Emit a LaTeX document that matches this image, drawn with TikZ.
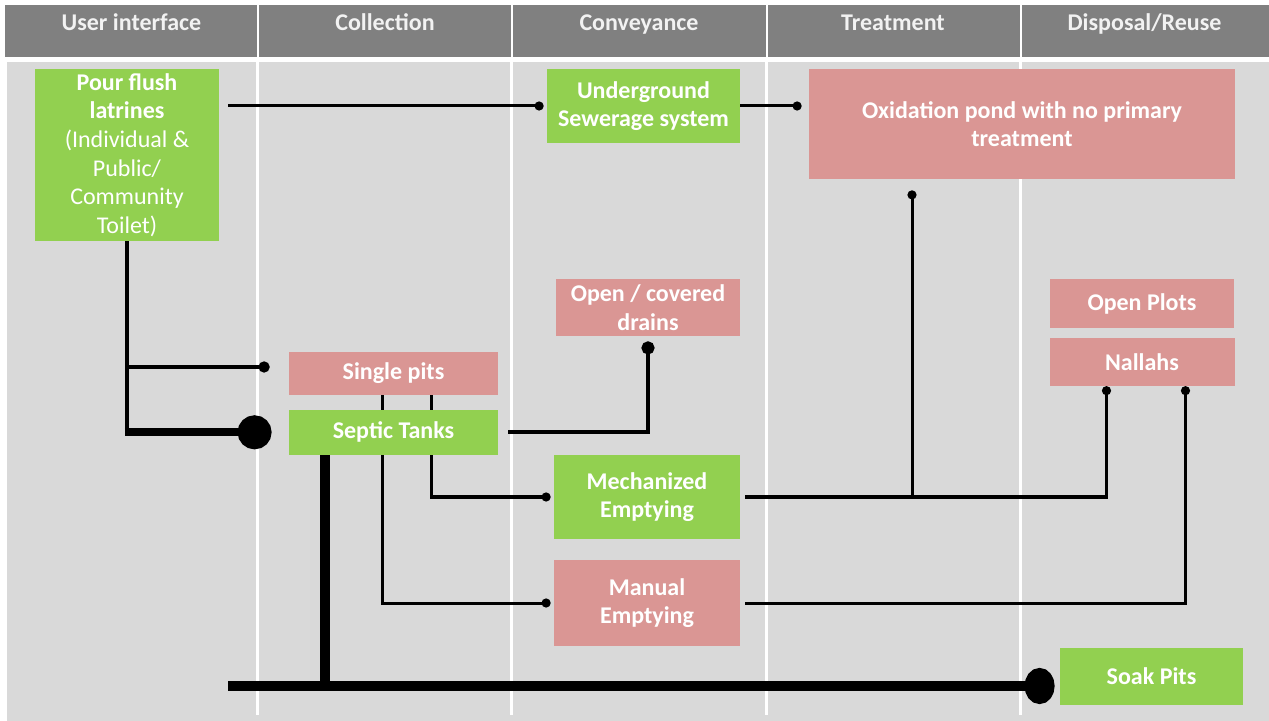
\documentclass[tikz,border=0pt]{standalone}
\usepackage{fontspec}
\setmainfont{Carlito}
\usetikzlibrary{arrows.meta,positioning}
\definecolor{leaf}{HTML}{92D050}
\definecolor{rose}{HTML}{DA9694}
\definecolor{panel}{HTML}{D9D9D9}
\definecolor{headbar}{HTML}{808080}
\definecolor{headtext}{HTML}{F2F2F2}
\pgfdeclarelayer{back}
\pgfsetlayers{back,main}

\begin{document}
\begin{tikzpicture}[%
      x=0.5pt, y=-0.5pt, >={Circle[length=4.5pt]},
      every node/.style={inner sep=0pt, text=white, font=\fontsize{12}{14.3}\selectfont},
      box/.style={rectangle, align=center, font=\bfseries\fontsize{12}{14.3}\selectfont},
      greenbox/.style={box, fill=leaf},
      pinkbox/.style={box, fill=rose},
      title/.style={anchor=base, text=headtext, font=\bfseries\fontsize{12}{14}\selectfont},
      wire/.style={draw=black, line width=1.5pt},
      pipe/.style={draw=black, line width=2.2pt},
      trunk/.style={draw=black, line width=5pt}
    ]
    \useasboundingbox (0,0) rectangle (1269,721);
    \begin{pgfonlayer}{back}
      \fill[headbar] (5,5) rectangle (1269,57);
      \fill[panel] (7,62) rectangle (1269,721);
      \foreach \xd in {257.5,511.5,766.5,1020.5} {
        \draw[white, line width=1pt] (\xd,5) -- (\xd,57);
        \draw[white, line width=1.2pt] (\xd,62) -- (\xd,715);
      }
    \end{pgfonlayer}

    % column titles
    \node [title] (ui) at (131.5,31) {User interface};
    \node [title] (coll) at (385,31) {Collection};
    \node [title] (conv) at (639,31) {Conveyance};
    \node [title] (treat) at (893,31) {Treatment};
    \node [title] (disp) at (1144.5,31) {Disposal/Reuse};

    % stages
    \node [greenbox, minimum width=92pt, minimum height=86pt] (latrine) at (127,155)
      {\textbf{Pour flush}\\\textbf{latrines}\\\textmd{(Individual \&}\\\textmd{Public/}\\\textmd{Community}\\\textmd{Toilet)}};
    \node [greenbox, minimum width=96.5pt, minimum height=37pt] (sewer) at (643.5,106) {Underground\\Sewerage system};
    \node [pinkbox, minimum width=213pt, minimum height=55pt] (pond) at (1022,124) {Oxidation pond with no primary\\treatment};
    \node [pinkbox, minimum width=92pt, minimum height=28.5pt] (drains) at (648,307.5) {Open / covered\\drains};
    \node [pinkbox, minimum width=104.5pt, minimum height=21.5pt] (pits) at (393.5,373.5) {Single pits};
    \node [greenbox, minimum width=104.5pt, minimum height=22.5pt, below=7pt of pits] (septic) {Septic Tanks};
    \node [greenbox, minimum width=93pt, minimum height=42pt] (mech) at (647,497) {Mechanized\\Emptying};
    \node [pinkbox, minimum width=93pt, minimum height=43pt] (manual) at (647,603) {Manual\\Emptying};
    \node [pinkbox, minimum width=92pt, minimum height=24.5pt] (plots) at (1142,303.5) {Open Plots};
    \node [pinkbox, minimum width=92.5pt, minimum height=24pt, below=4.5pt of plots] (nallahs) {Nallahs};
    \node [greenbox, minimum width=91.5pt, minimum height=28.5pt] (soak) at (1151.5,676.5) {Soak Pits};

    \coordinate (bend) at (latrine.south |- septic.west);
    \coordinate (pitsIn) at ([yshift=3.25pt]pits.west);
    \coordinate (pitA) at ([xshift=18.75pt]pits.south);
    \coordinate (pitB) at ([xshift=-5.75pt]pits.south);
    \coordinate (tankfoot) at ([xshift=-34.25pt]septic.south);
    \coordinate (sink) at (228,686);
    \coordinate (pondfoot) at ([xshift=-55pt]pond.south);
    \coordinate (nalL) at ([xshift=-17.75pt]nallahs.south);
    \coordinate (nalR) at ([xshift=21.75pt]nallahs.south);

    \begin{pgfonlayer}{back}
      \draw [wire, ->, shorten <=4.5pt, shorten >=1.5pt] (latrine.east |- sewer.west) -- (sewer.west);
      \draw [wire, ->, shorten >=3.5pt] (sewer.east) -- (sewer.east -| pond.west);
      \draw [pipe] (latrine.south) -- (bend);
      \draw [pipe, -{Circle[length=5.5pt]}, shorten >=9.5pt] (latrine.south |- pitsIn) -- (pitsIn);
      \draw [line width=4pt, -{Circle[length=17pt]}, shorten >=8.5pt] ([xshift=-1.1pt]bend) -- (septic.west);
      \draw [pipe, -{Circle[length=6.5pt]}, shorten <=5pt, shorten >=2.5pt] (septic.east) -| (drains.south);
      \draw [wire, ->, shorten >=1.5pt] (pitA) |- (mech.west);
      \draw [wire, ->, shorten >=1.5pt] (pitB) |- (manual.west);
      \draw [trunk] (tankfoot) -- (tankfoot |- sink);
      \draw [trunk, -{Circle[length=15pt,width=18pt]}, shorten >=2.5pt] (sink) -- (sink -| soak.west);
      \draw [wire, ->, shorten <=2.5pt] (mech.east) -| (nalL);
      \draw [wire, ->, shorten >=5.5pt] (pondfoot |- mech.east) -- (pondfoot);
      \draw [wire, ->, shorten <=2.5pt] (manual.east) -| (nalR);
    \end{pgfonlayer}
  \end{tikzpicture}
\end{document}
